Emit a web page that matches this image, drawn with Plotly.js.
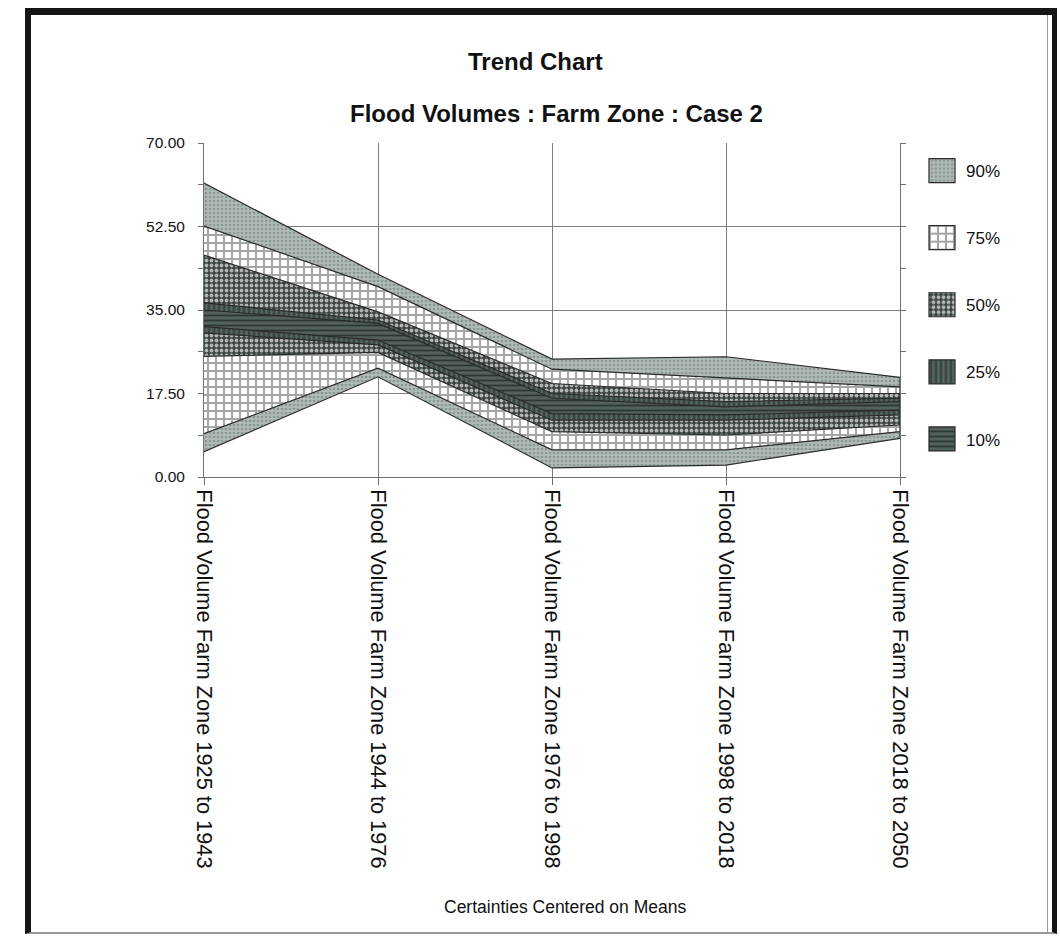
<!DOCTYPE html>
<html><head><meta charset="utf-8">
<script src="https://cdn.plot.ly/plotly-3.0.1.min.js"></script>
<style>
html,body{margin:0;padding:0;background:#fff;}
#chart{position:absolute;left:0;top:0;width:1060px;height:938px;}
#frame{position:absolute;left:25px;top:8px;width:1021px;height:917px;border-left:6px solid #151515;border-top:7px solid #151515;border-right:5px solid #151515;border-bottom:2px solid #9a9a9a;pointer-events:none;}
#frame2{position:absolute;left:1047px;top:15px;width:1px;height:919px;background:#9a9a9a;pointer-events:none;}
</style></head>
<body>
<div id="chart"></div>
<div id="frame"></div>
<div id="frame2"></div>
<script>
const categories = [
  "Flood Volume Farm Zone 1925 to 1943",
  "Flood Volume Farm Zone 1944 to 1976",
  "Flood Volume Farm Zone 1976 to 1998",
  "Flood Volume Farm Zone 1998 to 2018",
  "Flood Volume Farm Zone 2018 to 2050"
];
const upper90 = [61.6, 42.5, 24.7, 25.2, 20.9];
const lower90 = [5.3, 21.0, 1.9, 2.5, 8.1];
const upper75 = [52.6, 39.9, 22.6, 20.7, 18.9];
const lower75 = [9.1, 22.8, 5.7, 5.7, 9.5];
const upper50 = [46.5, 34.6, 19.6, 17.5, 17.5];
const lower50 = [25.3, 26.1, 9.5, 8.8, 10.9];
const upper25 = [36.5, 32.9, 17.5, 15.8, 16.5];
const lower25 = [30.2, 27.7, 11.9, 11.9, 13.0];
const upper10 = [35.0, 32.2, 16.5, 14.7, 15.8];
const lower10 = [31.5, 28.7, 13.3, 13.0, 14.0];
const bandNames = ["90%", "75%", "50%", "25%", "10%"];
const yTickVals = [0, 17.5, 35, 52.5, 70];

const bands = [
  {name: bandNames[0], up: upper90, lo: lower90, fill: "#aeb9b5", pat: {shape: ".", bgcolor: "#b0bbb7", fgcolor: "#8c9894", size: 4, solidity: 0.35}},
  {name: bandNames[1], up: upper75, lo: lower75, fill: "#ffffff", pat: {shape: "+", bgcolor: "#ffffff", fgcolor: "#a2a8a6", size: 8, solidity: 0.45}},
  {name: bandNames[2], up: upper50, lo: lower50, fill: "#5b6361", pat: {shape: ".", bgcolor: "#3c4442", fgcolor: "#b0b5b3", size: 5, solidity: 0.45}},
  {name: bandNames[3], up: upper25, lo: lower25, fill: "#3d4a47", pat: {shape: "|", bgcolor: "#3b4845", fgcolor: "#5b6965", size: 5, solidity: 0.4}},
  {name: bandNames[4], up: upper10, lo: lower10, fill: "#55635f", pat: {shape: "-", bgcolor: "#53615d", fgcolor: "#2d3634", size: 5, solidity: 0.35}}
];

const xPoly = categories.concat(categories.slice().reverse());
const traces = bands.map((b, i) => ({
  type: "scatter",
  mode: "lines",
  name: b.name,
  legendgroup: "g" + i,
  x: xPoly,
  y: b.up.concat(b.lo.slice().reverse()),
  fill: "toself",
  fillcolor: b.fill,
  fillpattern: b.pat,
  line: {color: "#2a2a2a", width: 1.2},
  hoverinfo: "skip"
}));

const font = "Liberation Sans, Arial, sans-serif";
const layout = {
  width: 1060, height: 938,
  margin: {l: 204, r: 160, t: 143, b: 461},
  paper_bgcolor: "#ffffff",
  plot_bgcolor: "#ffffff",
  font: {family: font, color: "#111"},
  showlegend: true,
  title: {
    text: "<b>Trend Chart</b>",
    font: {family: font, size: 24, color: "#111"},
    x: 0.505, xanchor: "center", xref: "container",
    y: 1 - 62 / 938, yanchor: "middle", yref: "container"
  },
  xaxis: {
    type: "category",
    range: [0, 4],
    showgrid: true, gridcolor: "#7d7d7d", gridwidth: 1,
    showline: true, linecolor: "#6f6f6f", linewidth: 1,
    ticks: "outside", ticklen: 7, tickcolor: "#6f6f6f",
    tickangle: 90,
    tickfont: {family: font, size: 21.8, color: "#111"},
    zeroline: false, fixedrange: true
  },
  yaxis: {
    range: [0, 70],
    tickvals: yTickVals,
    tickformat: ".2f",
    showgrid: true, gridcolor: "#7d7d7d", gridwidth: 1,
    showline: true, linecolor: "#6f6f6f", linewidth: 1,
    mirror: "ticks",
    ticks: "outside", ticklen: 5, tickcolor: "#6f6f6f",
    minor: {dtick: 8.75, tick0: 0, ticks: "outside", ticklen: 5, tickcolor: "#6f6f6f", showgrid: false},
    ticklabelstandoff: 10,
    tickfont: {family: font, size: 15.5, color: "#111"},
    zeroline: false, fixedrange: true
  },
  legend: {
    x: (926 - 204) / 696, xanchor: "left",
    y: (477 - 153) / 334, yanchor: "top",
    font: {family: font, size: 17, color: "#111"},
    tracegroupgap: 42,
    bgcolor: "rgba(0,0,0,0)",
    itemclick: false, itemdoubleclick: false
  },
  annotations: [
    {
      text: "<b>Flood Volumes : Farm Zone : Case 2</b>",
      xref: "paper", yref: "paper",
      x: (556 - 204) / 696, y: (477 - 113) / 334,
      xanchor: "center", yanchor: "middle", showarrow: false,
      font: {family: font, size: 24, color: "#111"}
    },
    {
      text: "Certainties Centered on Means",
      xref: "paper", yref: "paper",
      x: (565 - 204) / 696, y: (477 - 907) / 334,
      xanchor: "center", yanchor: "middle", showarrow: false,
      font: {family: font, size: 17.5, color: "#111"}
    }
  ]
};

Plotly.newPlot("chart", traces, layout, {displayModeBar: false, staticPlot: true}).then(gd => {
  // enlarge the legend swatches into squares like the original
  const sq = "M3,-12h26v24h-26z";
  gd.querySelectorAll(".legend .legendfill path").forEach(p => p.setAttribute("d", sq));
  gd.querySelectorAll(".legend .legendlines path").forEach(p => {
    p.setAttribute("d", sq);
    p.style.fill = "none";
  });
});
</script>
</body></html>
